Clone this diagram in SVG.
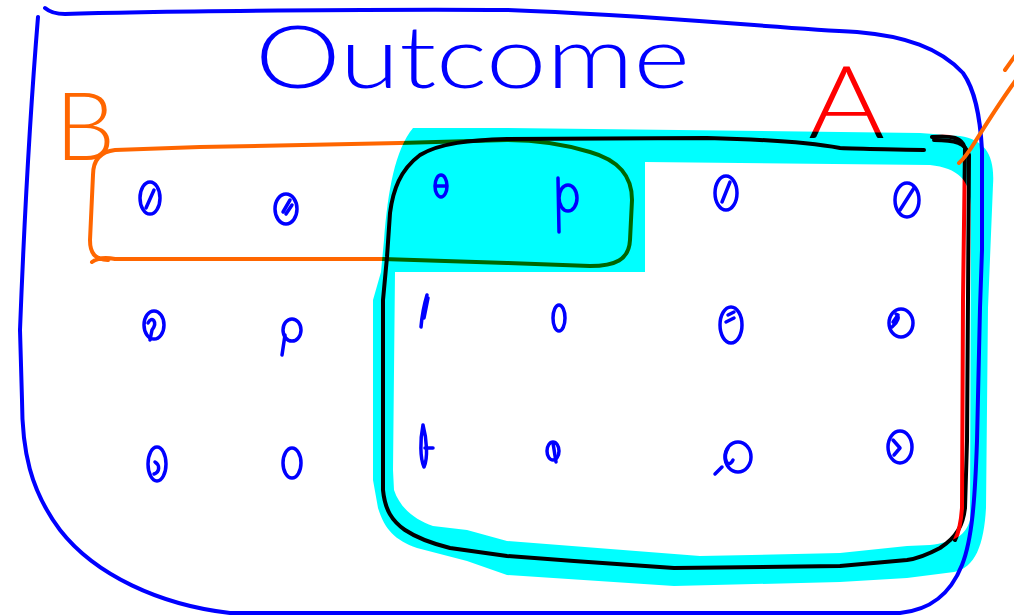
<svg xmlns="http://www.w3.org/2000/svg" width="1014" height="616" viewBox="0 0 1014 616">
<style>
.ln{fill:none;stroke-linecap:round;stroke-linejoin:round;stroke-width:4}
.bl{stroke:#0000ff}
.or{stroke:#ff6600}
.rd{stroke:#ff0000}
.bk{stroke:#000000}
.pt{fill:none;stroke:#0000ff;stroke-width:3.5;stroke-linecap:round;stroke-linejoin:round}
.hand{font-family:Lato,"Open Sans","DejaVu Sans",sans-serif;font-weight:300}
</style>
<rect width="1014" height="616" fill="#ffffff"/>
<g id="outcome-space">
<path class="ln bl" d="M45,8 Q52,14 65,14 C150,11 400,9 507,10 C650,15 760,27 857,32 C905,36 940,48 963,73 C975,90 980,115 982,150 L982,250 L980,308 L977,441 C975,500 972,540 962,565 C950,595 930,610 900,613 L230,613 C160,605 95,575 60,530 C30,490 22,450 22,400 L20,330"/>
<path class="ln bl" d="M38,17 C32,90 25,200 20,330"/>
<text class="hand" x="255" y="88" font-size="86" fill="#0000ff" textLength="435" lengthAdjust="spacingAndGlyphs">Outcome</text>
</g>
<g id="event-B">
<path class="ln or" d="M92,262 Q100,256 115,259 L383,259 L507,263 L590,266 C615,266 629,260 630,240 L632,200 C632,175 618,160 590,152 C560,143 530,140 507,140 L400,143 L200,147 L115,150 C98,152 93,162 93,175 L90,240 C90,255 96,259 108,260"/>
<text class="hand" x="55" y="160" font-size="95" fill="#ff6600">B</text>
</g>
<g id="event-A">
<path class="ln bk" d="M934,140 C955,140 966,143 969,155 L967,441 L965,508 C963,525 957,537 940,548 C925,556 915,559 907,560 L840,566 L674,568 L574,561 L507,556 L450,548 C430,543 417,538 405,530 C392,521 385,510 383,490 L383,300 L387,257 L390,213 C393,190 400,170 420,155 C440,143 470,140 507,139 L707,138 C750,139 800,141 840,148 C860,149 880,149 924,150"/>
<path class="ln rd" d="M932,137 C952,135 962,138 965,148 L963,300 L962,508 C961,522 959,532 955,540"/>
<text class="hand" x="808" y="138" font-size="100" fill="#ff0000" textLength="77" lengthAdjust="spacingAndGlyphs">A</text>
</g>
<g id="highlight" style="mix-blend-mode:multiply">
<path fill="#00ffff" fill-rule="evenodd" d="M413,128 L507,128 L920,133 L960,136 C985,140 995,155 993,185 L988,308 L986,508 C984,545 975,568 954,572 L907,578 L840,582 L674,586 L507,575 L467,561 L417,548 C395,540 385,530 378,508 L373,480 L373,300 L381,272 L384,240 C388,190 395,150 413,128 Z M395,272 L645,272 L645,162 L930,165 C958,168 970,180 971,205 L970,520 C966,535 955,542 930,545 L907,546 L840,553 L700,556 L507,541 L467,530 L433,526 C415,520 400,508 394,490 L393,470 Z"/>
</g>
<g id="slash">
<path class="ln or" d="M959,163 C965,158 970,150 975,142 C990,118 1003,98 1016,80"/>
<path class="ln or" d="M1005,70 L1015,56"/>
</g>
<g id="points">
<ellipse class="pt" cx="150" cy="198" rx="10" ry="16"/><path class="pt" d="M146,208 L154,190"/>
<ellipse class="pt" cx="286" cy="209" rx="11" ry="15"/><path class="pt" d="M283,212 L290,200 M286,214 L292,205"/>
<ellipse class="pt" cx="441" cy="186" rx="6" ry="11"/><path class="pt" d="M437,186 L446,186"/>
<ellipse class="pt" cx="568" cy="198" rx="9" ry="13"/><path class="pt" d="M558,178 L559,232"/>
<ellipse class="pt" cx="726" cy="193" rx="11" ry="17"/><path class="pt" d="M722,202 L730,182"/>
<ellipse class="pt" cx="907" cy="200" rx="12" ry="17"/><path class="pt" d="M900,210 L914,188"/>
<ellipse class="pt" cx="154" cy="325" rx="10" ry="14"/><path class="pt" d="M148,323 C152,315 158,322 152,330 L150,340"/>
<ellipse class="pt" cx="292" cy="330" rx="9" ry="11"/><path class="pt" d="M285,335 L282,355"/>
<path class="pt" d="M427,295 C424,305 422,315 421,327 M428,298 L424,318" stroke-width="5"/>
<ellipse class="pt" cx="559" cy="318" rx="6" ry="13"/>
<ellipse class="pt" cx="731" cy="325" rx="11" ry="18"/><path class="pt" d="M728,315 L734,312 M726,322 L734,318" stroke-width="5"/>
<ellipse class="pt" cx="901" cy="323" rx="12" ry="14"/><path class="pt" d="M893,322 L898,315 M892,327 C898,322 900,316 896,314"/>
<ellipse class="pt" cx="157" cy="464" rx="9" ry="17"/><path class="pt" d="M155,462 C160,465 160,472 154,474"/>
<ellipse class="pt" cx="292" cy="463" rx="9" ry="15"/>
<path class="pt" d="M423,425 C420,440 420,458 424,467 C428,458 427,440 423,425 M425,448 L433,448" stroke-width="5"/>
<ellipse class="pt" cx="553" cy="451" rx="6" ry="9" fill="#0000ff"/><path class="pt" d="M553,443 L556,462"/>
<ellipse class="pt" cx="738" cy="457" rx="13" ry="15"/><path class="pt" d="M728,448 C722,458 728,470 733,460 M722,467 L715,474"/>
<ellipse class="pt" cx="900" cy="447" rx="12" ry="16"/><path class="pt" d="M893,440 L900,448 L894,455"/>
</g>
</svg>
